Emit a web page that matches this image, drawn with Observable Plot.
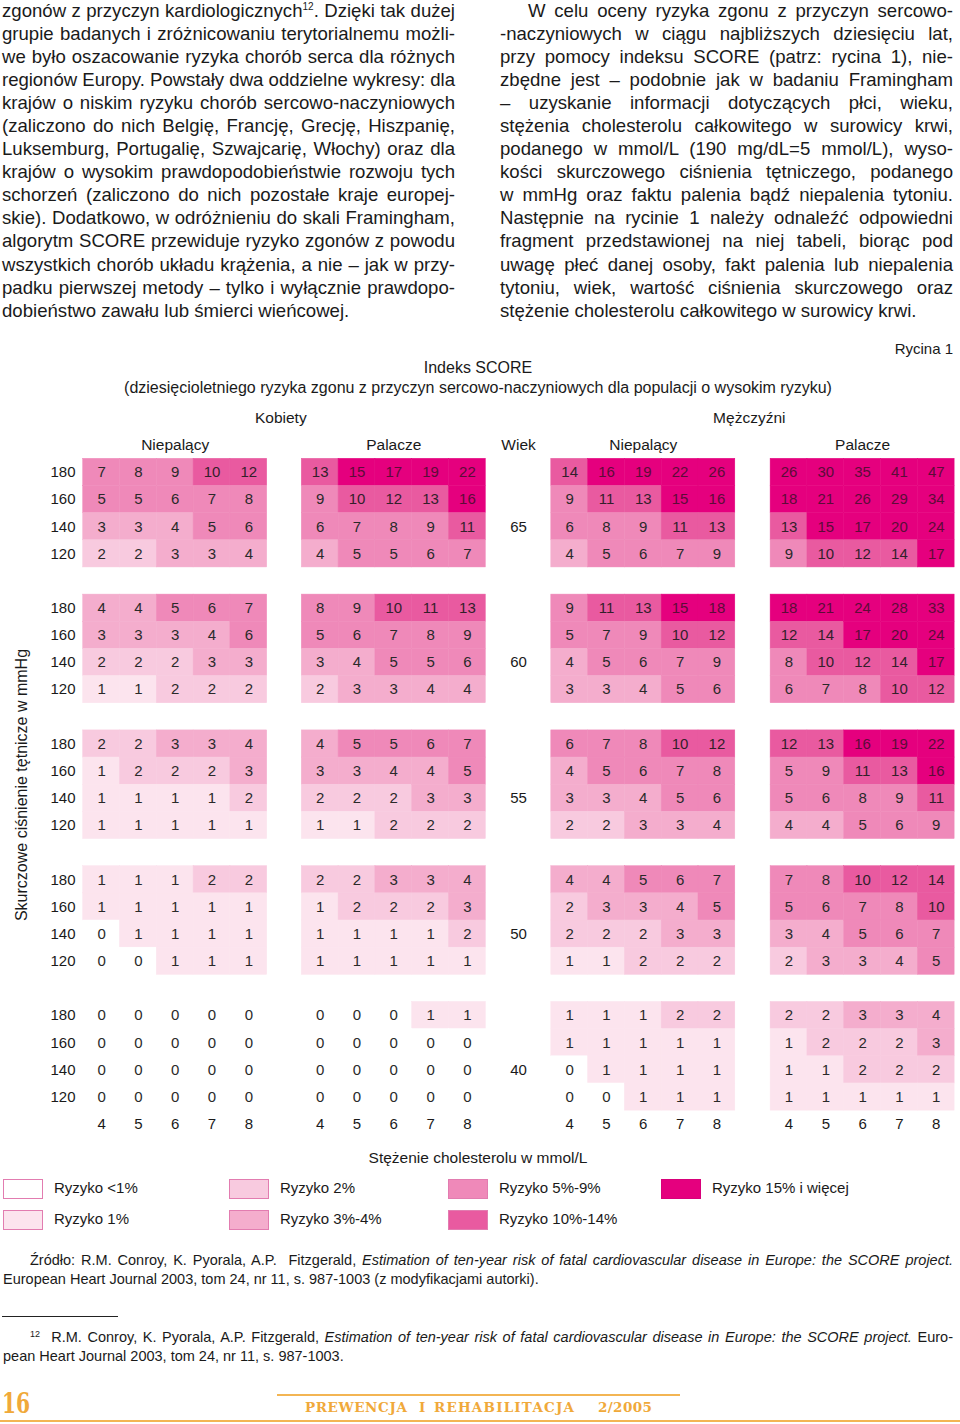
<!DOCTYPE html>
<html><head><meta charset="utf-8">
<script src="https://cdn.jsdelivr.net/npm/d3@7"></script>
<script src="https://cdn.jsdelivr.net/npm/@observablehq/plot@0.6"></script>
<style>
body{margin:0;background:#fff;}
#page{position:relative;width:960px;height:1424px;overflow:hidden;font-family:"Liberation Sans",Arial,sans-serif;color:#1a1a1a;}
.col{position:absolute;top:-1.5px;width:453px;font-size:18.6px;}
.col div{height:23.1px;line-height:23.1px;white-space:nowrap;text-align:justify;text-align-last:justify;}
.col div.last{text-align-last:left;}
.col sup{font-size:10px;line-height:0;vertical-align:7px;}
.abs{position:absolute;white-space:nowrap;}
#chart{position:absolute;left:0;top:400px;}
.just{text-align:justify;text-align-last:justify;}
.sw{position:absolute;width:40px;height:20px;box-sizing:border-box;border:1.5px solid #e27cb0;}
.lt{position:absolute;font-size:15px;line-height:20px;white-space:nowrap;}
.orange{color:#f0a93a;}
.ft{position:absolute;top:1398px;font-family:'DejaVu Serif',serif;font-weight:bold;font-size:13.5px;line-height:18px;color:#f0a93a;white-space:nowrap;}
</style></head>
<body><div id="page">
<div class="col" style="left:2px">
<div>zgonów z przyczyn kardiologicznych<sup>12</sup>. Dzięki tak dużej</div>
<div>grupie badanych i zróżnicowaniu terytorialnemu możli-</div>
<div>we było oszacowanie ryzyka chorób serca dla różnych</div>
<div>regionów Europy. Powstały dwa oddzielne wykresy: dla</div>
<div>krajów o niskim ryzyku chorób sercowo-naczyniowych</div>
<div>(zaliczono do nich Belgię, Francję, Grecję, Hiszpanię,</div>
<div>Luksemburg, Portugalię, Szwajcarię, Włochy) oraz dla</div>
<div>krajów o wysokim prawdopodobieństwie rozwoju tych</div>
<div>schorzeń (zaliczono do nich pozostałe kraje europej-</div>
<div>skie). Dodatkowo, w odróżnieniu do skali Framingham,</div>
<div>algorytm SCORE przewiduje ryzyko zgonów z powodu</div>
<div>wszystkich chorób układu krążenia, a nie – jak w przy-</div>
<div>padku pierwszej metody – tylko i wyłącznie prawdopo-</div>
<div class="last">dobieństwo zawału lub śmierci wieńcowej.</div>
</div>
<div class="col" style="left:500px">
<div style="text-indent:28px">W celu oceny ryzyka zgonu z przyczyn sercowo-</div>
<div>-naczyniowych w ciągu najbliższych dziesięciu lat,</div>
<div>przy pomocy indeksu SCORE (patrz: rycina 1), nie-</div>
<div>zbędne jest – podobnie jak w badaniu Framingham</div>
<div>– uzyskanie informacji dotyczących płci, wieku,</div>
<div>stężenia cholesterolu całkowitego w surowicy krwi,</div>
<div>podanego w mmol/L (190 mg/dL=5 mmol/L), wyso-</div>
<div>kości skurczowego ciśnienia tętniczego, podanego</div>
<div>w mmHg oraz faktu palenia bądź niepalenia tytoniu.</div>
<div>Następnie na rycinie 1 należy odnaleźć odpowiedni</div>
<div>fragment przedstawionej na niej tabeli, biorąc pod</div>
<div>uwagę płeć danej osoby, fakt palenia lub niepalenia</div>
<div>tytoniu, wiek, wartość ciśnienia skurczowego oraz</div>
<div class="last">stężenie cholesterolu całkowitego w surowicy krwi.</div>
</div>

<div class="abs" style="right:7px;top:340px;font-size:15px;line-height:18px;">Rycina 1</div>
<div class="abs" style="left:478px;top:359px;font-size:16px;line-height:18px;transform:translateX(-50%);">Indeks SCORE</div>
<div class="abs" style="left:478px;top:379px;font-size:16px;line-height:18px;transform:translateX(-50%);">(dziesięcioletniego ryzyka zgonu z przyczyn sercowo-naczyniowych dla populacji o wysokim ryzyku)</div>

<div id="chart"></div>

<div class="abs" style="left:22px;top:785px;font-size:16px;line-height:18px;transform:translate(-50%,-50%) rotate(-90deg);">Skurczowe ciśnienie tętnicze w mmHg</div>
<div class="abs" style="left:478px;top:1149px;font-size:15.5px;line-height:18px;transform:translateX(-50%);">Stężenie cholesterolu w mmol/L</div>

<div id="legend"></div>

<div class="abs just" style="left:30px;width:923px;top:1251px;font-size:14.5px;line-height:19px;">Źródło: R.M. Conroy, K. Pyorala, A.P.&nbsp; Fitzgerald, <i>Estimation of ten-year risk of fatal cardiovascular disease in Europe: the SCORE project.</i></div>
<div class="abs" style="left:3px;top:1270px;font-size:14.5px;line-height:19px;">European Heart Journal 2003, tom 24, nr 11, s. 987-1003 (z modyfikacjami autorki).</div>
<div class="abs" style="left:2px;top:1316px;width:116px;height:1px;background:#222;"></div>
<div class="abs just" style="left:30px;width:923px;top:1328px;font-size:14.5px;line-height:19px;"><span style="font-size:9px;vertical-align:5px;line-height:0">12</span>&nbsp; R.M. Conroy, K. Pyorala, A.P. Fitzgerald, <i>Estimation of ten-year risk of fatal cardiovascular disease in Europe: the SCORE project.</i> Euro-</div>
<div class="abs" style="left:3px;top:1347px;font-size:14.5px;line-height:19px;">pean Heart Journal 2003, tom 24, nr 11, s. 987-1003.</div>

<div class="abs" style="left:277px;top:1394px;width:403px;height:1.5px;background:#f3b553;"></div>
<div class="abs" style="left:0px;top:1420px;width:960px;height:1.5px;background:#f3b553;"></div>
<div class="abs orange" style="left:2px;top:1388px;font-family:'DejaVu Serif',serif;font-weight:bold;font-size:27px;line-height:32px;transform:scaleX(0.75);transform-origin:left;">16</div>
<div class="ft" style="left:305px;letter-spacing:0.6px;">PREWENCJA</div>
<div class="ft" style="left:419px;">I</div>
<div class="ft" style="left:434px;letter-spacing:1.2px;">REHABILITACJA</div>
<div class="ft" style="left:598px;letter-spacing:0.4px;">2/2005</div>
</div>

<script>
// ---- data ----
const ages = [65, 60, 55, 50, 40];
const systolic = [180, 160, 140, 120];
const cholesterol = [4, 5, 6, 7, 8];
const sexes = ["Kobiety", "Mężczyźni"];
const smoking = ["Niepalący", "Palacze"];
const ageHeader = "Wiek";

// rows: age 65 (180,160,140,120), 60, 55, 50, 40; columns: cholesterol 4..8
const womenNonSmokers = [
  [7,8,9,10,12],[5,5,6,7,8],[3,3,4,5,6],[2,2,3,3,4],
  [4,4,5,6,7],[3,3,3,4,6],[2,2,2,3,3],[1,1,2,2,2],
  [2,2,3,3,4],[1,2,2,2,3],[1,1,1,1,2],[1,1,1,1,1],
  [1,1,1,2,2],[1,1,1,1,1],[0,1,1,1,1],[0,0,1,1,1],
  [0,0,0,0,0],[0,0,0,0,0],[0,0,0,0,0],[0,0,0,0,0]
];
const womenSmokers = [
  [13,15,17,19,22],[9,10,12,13,16],[6,7,8,9,11],[4,5,5,6,7],
  [8,9,10,11,13],[5,6,7,8,9],[3,4,5,5,6],[2,3,3,4,4],
  [4,5,5,6,7],[3,3,4,4,5],[2,2,2,3,3],[1,1,2,2,2],
  [2,2,3,3,4],[1,2,2,2,3],[1,1,1,1,2],[1,1,1,1,1],
  [0,0,0,1,1],[0,0,0,0,0],[0,0,0,0,0],[0,0,0,0,0]
];
const menNonSmokers = [
  [14,16,19,22,26],[9,11,13,15,16],[6,8,9,11,13],[4,5,6,7,9],
  [9,11,13,15,18],[5,7,9,10,12],[4,5,6,7,9],[3,3,4,5,6],
  [6,7,8,10,12],[4,5,6,7,8],[3,3,4,5,6],[2,2,3,3,4],
  [4,4,5,6,7],[2,3,3,4,5],[2,2,2,3,3],[1,1,2,2,2],
  [1,1,1,2,2],[1,1,1,1,1],[0,1,1,1,1],[0,0,1,1,1]
];
const menSmokers = [
  [26,30,35,41,47],[18,21,26,29,34],[13,15,17,20,24],[9,10,12,14,17],
  [18,21,24,28,33],[12,14,17,20,24],[8,10,12,14,17],[6,7,8,10,12],
  [12,13,16,19,22],[5,9,11,13,16],[5,6,8,9,11],[4,4,5,6,9],
  [7,8,10,12,14],[5,6,7,8,10],[3,4,5,6,7],[2,3,3,4,5],
  [2,2,3,3,4],[1,2,2,2,3],[1,1,2,2,2],[1,1,1,1,1]
];
const riskLabels = ["Ryzyko <1%","Ryzyko 1%","Ryzyko 2%","Ryzyko 3%-4%","Ryzyko 5%-9%","Ryzyko 10%-14%","Ryzyko 15% i więcej"];
const riskColors = ["#ffffff","#fce4ee","#f8cadf","#f4adcd","#ef89b9","#e95aa0","#e5007e"];

// fit justified text lines: tighten letter-spacing if a line is too long
document.querySelectorAll(".col div").forEach(div => {
  const span = document.createElement("span");
  while (div.firstChild) span.appendChild(div.firstChild);
  div.appendChild(span);
  const indent = parseFloat(getComputedStyle(div).textIndent) || 0;
  const avail = 453 - indent;
  const w = span.getBoundingClientRect().width;
  if (w > avail) {
    const n = span.textContent.length;
    div.style.letterSpacing = (-(w - avail + 1) / n) + "px";
  }
});

// ---- layout (code, not data) ----
const panels = [
  {sex:0, smk:0, values:womenNonSmokers, off:0},
  {sex:0, smk:1, values:womenSmokers, off:5.94},
  {sex:1, smk:0, values:menNonSmokers, off:12.72},
  {sex:1, smk:1, values:menSmokers, off:18.68}
];
const riskIndex = v => v < 1 ? 0 : v < 2 ? 1 : v < 3 ? 2 : v < 5 ? 3 : v < 10 ? 4 : v < 15 ? 5 : 6;

const cells = [];
panels.forEach(p => p.values.forEach((row, k) => {
  const block = Math.floor(k / 4), bi = k % 4;
  row.forEach((v, ci) => cells.push({
    v, x: p.off + ci, r: block * 5 + bi, risk: riskLabels[riskIndex(v)]
  }));
}));
const bpLabels = [];
ages.forEach((a, b) => systolic.forEach((s, i) => bpLabels.push({t: s, r: b * 5 + i})));
const ageMid = (panels[1].off + 5 + panels[2].off) / 2;
const ageLabels = ages.map((a, b) => ({t: a, r: b * 5 + 2}));
const cholTicks = [];
panels.forEach(p => cholesterol.forEach((c, ci) => cholTicks.push({t: c, x: p.off + ci + 0.5})));
const lastRow = ages.length * 5 - 1;
const smkHeaders = panels.map(p => ({t: smoking[p.smk], x: p.off + 2.5}));
const sexHeaders = sexes.map((s, i) => ({t: s, x: (panels[i*2].off + panels[i*2+1].off + 5) / 2 - 0.1}));

const cellW = 36.8, rowH = 27.16, x0 = 82.7, y0 = 58.3;
const chart = Plot.plot({
  width: 960, height: 740, margin: 0,
  x: {type: "linear", domain: [0, 1], range: [x0, x0 + cellW], axis: null},
  y: {type: "linear", domain: [0, 1], range: [y0, y0 + rowH], axis: null},
  color: {type: "ordinal", domain: riskLabels, range: riskColors},
  style: {fontFamily: "'Liberation Sans', Arial, sans-serif", fontSize: "15px", color: "#1a1a1a", background: "transparent", overflow: "visible"},
  marks: [
    Plot.rect(cells, {x1: "x", x2: d => d.x + 1, y1: "r", y2: d => d.r + 1, fill: "risk", stroke: "risk", strokeWidth: 0.5}),
    Plot.text(cells, {x: d => d.x + 0.5, y: d => d.r + 0.5, text: "v", fontSize: 15,
      fill: d => d.v >= 15 ? "#5c0c38" : d.v >= 10 ? "#33202b" : "#2a2a2a"}),
    Plot.text(bpLabels, {x: () => -0.55, y: d => d.r + 0.5, text: "t", fontSize: 15}),
    Plot.text(ageLabels, {x: () => ageMid, y: d => d.r + 0.5, text: "t", fontSize: 15}),
    Plot.text(cholTicks, {x: "x", y: () => lastRow + 0.5, text: "t", fontSize: 15}),
    Plot.text(smkHeaders, {x: "x", y: () => -0.5, text: "t", fontSize: 15.5}),
    Plot.text([ageHeader], {x: () => ageMid, y: () => -0.5, text: d => d, fontSize: 15.5}),
    Plot.text(sexHeaders, {x: "x", y: () => -1.5, text: "t", fontSize: 15.5})
  ]
});
document.getElementById("chart").appendChild(chart);

// legend
const legend = document.getElementById("legend");
const lx = [3, 229, 448, 661], ly = [1179, 1210];
riskLabels.forEach((lab, i) => {
  const c = Math.floor(i / 2), r = i % 2;
  const sw = document.createElement("div");
  sw.className = "sw";
  sw.style.left = lx[c] + "px"; sw.style.top = ly[r] + "px";
  sw.style.background = riskColors[i];
  if (i === 6) sw.style.borderColor = "#d8007a";
  legend.appendChild(sw);
  const t = document.createElement("div");
  t.className = "lt";
  t.style.left = (lx[c] + 51) + "px"; t.style.top = (ly[r] - 1) + "px";
  t.textContent = lab;
  legend.appendChild(t);
});
</script>
</body></html>
